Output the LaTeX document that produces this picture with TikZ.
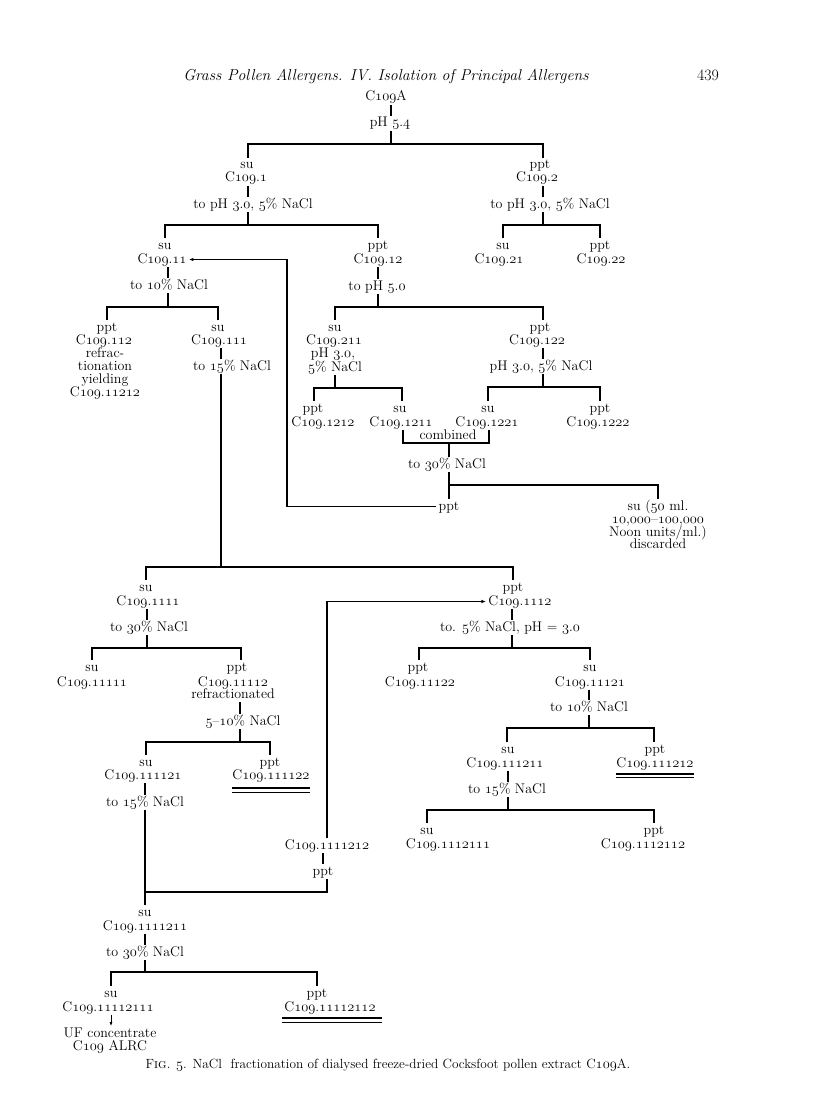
\documentclass[tikz,border=0pt]{standalone}
\usetikzlibrary{arrows.meta}
\newcommand\os[1]{{\usefont{OML}{lmm}{m}{it}#1}}
\newcommand\Cn[1]{C\os{109}.\os{#1}}
\newcommand\mf{\fontsize{14}{14.5}\selectfont}
\begin{document}
\begin{tikzpicture}[x=1pt,y=-1pt,
 lab/.style={inner sep=0pt,outer sep=2.5pt,anchor=base,font=\mf,text height=8.5pt,text depth=1.5pt},
 ln/.style={line width=1.4pt},
 tip/.style={-{Latex[length=4.5pt,width=3.5pt]}},
 ulA/.style={line width=1.3pt},
 ulB/.style={line width=0.7pt}]
\path[use as bounding box,fill=white] (0,0) rectangle (816,1118);
% header
\node[anchor=base,font=\fontsize{15.8}{16}\selectfont\itshape] (title) at (386,81) {Grass Pollen Allergens. IV. Isolation of Principal Allergens};
\node[anchor=base,font=\fontsize{15.8}{16}\selectfont] (page) at (708,81) {439};
% nodes
\node[lab] (A) at (386,101) {C\os{109}A};
\node[lab] (ph54) at (390,127) {pH \os{5}.\os{4}};
\node[lab] (s1) at (247,169) {su};
\node[lab] (c1) at (246,182) {\Cn{1}};
\node[lab] (t1) at (253,208) {to pH \os{3}.\os{0}, \os{5}\% NaCl};
\node[lab] (p2) at (540,169) {ppt};
\node[lab] (c2) at (537,182) {\Cn{2}};
\node[lab] (t2) at (550,208) {to pH \os{3}.\os{0}, \os{5}\% NaCl};
\node[lab] (s21) at (503,249) {su};
\node[lab] (c21) at (499,263) {\Cn{21}};
\node[lab] (p22) at (600,249) {ppt};
\node[lab] (c22) at (601,263) {\Cn{22}};
\node[lab] (s11) at (165,249) {su};
\node[lab] (c11) at (162,263) {\Cn{11}};
\node[lab] (t11) at (169,289) {to \os{10}\% NaCl};
\node[lab] (p112) at (107,331) {ppt};
\node[lab] (c112) at (104,344) {\Cn{112}};
\node[lab] (r1) at (105,357) {refrac-};
\node[lab] (r2) at (105,370) {tionation};
\node[lab] (r3) at (105,383) {yielding};
\node[lab] (r4) at (105,396) {\Cn{11212}};
\node[lab] (s111) at (218,331) {su};
\node[lab] (c111) at (219,344) {\Cn{111}};
\node[lab] (t111) at (232,370) {to \os{15}\% NaCl};
\node[lab] (p12) at (378,249) {ppt};
\node[lab] (c12) at (378,263) {\Cn{12}};
\node[lab] (t12) at (377,290) {to pH \os{5}.\os{0}};
\node[lab] (s121) at (335,331) {su};
\node[lab] (c121) at (334,344) {\Cn{211}};
\node[lab] (ph3a) at (333,357) {pH \os{3}.\os{0},};
\node[lab] (nacl5) at (335,371) {\os{5}\% NaCl};
\node[lab] (p1212) at (313,412) {ppt};
\node[lab] (c1212) at (323,426) {\Cn{1212}};
\node[lab] (s1211) at (400,412) {su};
\node[lab] (c1211) at (401,426) {\Cn{1211}};
\node[lab] (p122) at (540,331) {ppt};
\node[lab] (c122) at (537,344) {\Cn{122}};
\node[lab] (t122) at (541,370) {pH \os{3}.\os{0}, \os{5}\% NaCl};
\node[lab] (s1221) at (488,412) {su};
\node[lab] (c1221) at (487,426) {\Cn{1221}};
\node[lab] (p1222) at (600,412) {ppt};
\node[lab] (c1222) at (598,426) {\Cn{1222}};
\node[lab] (comb) at (448,439) {combined};
\node[lab] (t30a) at (447,468) {to \os{30}\% NaCl};
\node[lab] (pptA) at (449,510) {ppt};
\node[lab] (sd1) at (658,510) {su (\os{50} ml.};
\node[lab] (sd2) at (658,523) {\os{10},\os{000}--\os{100},\os{000}};
\node[lab] (sd3) at (658,536) {Noon units/ml.)};
\node[lab] (sd4) at (658,548) {discarded};
\node[lab] (s1111) at (146,591) {su};
\node[lab] (c1111) at (148,605) {\Cn{1111}};
\node[lab] (t1111) at (149,631) {to \os{30}\% NaCl};
\node[lab] (s11111) at (92,671) {su};
\node[lab] (c11111) at (92,686) {\Cn{11111}};
\node[lab] (p11112) at (237,671) {ppt};
\node[lab] (c11112) at (233,686) {\Cn{11112}};
\node[lab] (refr) at (233,698) {refractionated};
\node[lab] (t11112) at (243,725) {\os{5}--\os{10}\% NaCl};
\node[lab] (s111121) at (146,766) {su};
\node[lab] (c111121) at (143,779) {\Cn{111121}};
\node[lab] (t111121) at (145,806) {to \os{15}\% NaCl};
\node[lab] (p111122) at (270,766) {ppt};
\node[lab] (c111122) at (271,779) {\Cn{111122}};
\node[lab] (p1112) at (513,591) {ppt};
\node[lab] (c1112) at (520,605) {\Cn{1112}};
\node[lab] (t1112) at (510,631) {to. \os{5}\% NaCl, pH = \os{3}.\os{0}};
\node[lab] (p11122) at (418,671) {ppt};
\node[lab] (c11122) at (420,686) {\Cn{11122}};
\node[lab] (s11121) at (590,671) {su};
\node[lab] (c11121) at (590,686) {\Cn{11121}};
\node[lab] (t11121) at (589,711) {to \os{10}\% NaCl};
\node[lab] (s111211) at (508,753) {su};
\node[lab] (c111211) at (505,767) {\Cn{111211}};
\node[lab] (t111211) at (507,793) {to \os{15}\% NaCl};
\node[lab] (p111212) at (655,753) {ppt};
\node[lab] (c111212) at (655,767) {\Cn{111212}};
\node[lab] (s1112111) at (427,834) {su};
\node[lab] (c1112111) at (448,848) {\Cn{1112111}};
\node[lab] (p1112112) at (654,834) {ppt};
\node[lab] (c1112112) at (643,848) {\Cn{1112112}};
\node[lab] (c1111212) at (327,849) {\Cn{1111212}};
\node[lab] (pB) at (323,875) {ppt};
\node[lab] (s1111211) at (145,916) {su};
\node[lab] (c1111211) at (145,930) {\Cn{1111211}};
\node[lab] (t1111211) at (145,956) {to \os{30}\% NaCl};
\node[lab] (s11112111) at (111,997) {su};
\node[lab] (c11112111) at (108,1011) {\Cn{11112111}};
\node[lab] (uf1) at (110,1037) {UF concentrate};
\node[lab] (uf2) at (110,1050) {C\os{109} ALRC};
\node[lab] (p11112112) at (317,997) {ppt};
\node[lab] (c11112112) at (330,1011) {\Cn{11112112}};
\node[anchor=base,font=\fontsize{13.3}{14}\selectfont] (cap) at (388,1068) {F\textsc{ig}. \os{5}. NaCl\ \ fractionation of dialysed freeze-dried Cocksfoot pollen extract C\os{109}A.};
% junction coordinates
\coordinate (j1) at (391,144); \coordinate (L1) at (248,144); \coordinate (R1) at (543,144);
\coordinate (j2) at (248,225); \coordinate (L2) at (165,225); \coordinate (R2) at (378,225);
\coordinate (j3) at (543,225); \coordinate (L3) at (503,225); \coordinate (R3) at (600,225);
\coordinate (j4) at (168,307); \coordinate (L4) at (107,307); \coordinate (R4) at (218,307);
\coordinate (j5) at (221,567); \coordinate (L5) at (146,567); \coordinate (R5) at (513,567);
\coordinate (j6) at (378,307); \coordinate (L6) at (335,307); \coordinate (R6) at (543,307);
\coordinate (j7) at (335,388); \coordinate (L7) at (314,388); \coordinate (R7) at (402,388);
\coordinate (j8) at (543,387); \coordinate (L8) at (488,387); \coordinate (R8) at (600,387);
\coordinate (BL) at (403,443); \coordinate (BR) at (489,443); \coordinate (j9) at (449,443);
\coordinate (j10) at (449,485); \coordinate (R10) at (658,485);
\coordinate (k1) at (287,506);
\coordinate (j11) at (147,648); \coordinate (L11) at (92,648); \coordinate (R11) at (241,648);
\coordinate (j12) at (240,742); \coordinate (L12) at (146,742); \coordinate (R12) at (270,742);
\coordinate (j13) at (512,648); \coordinate (L13) at (419,648); \coordinate (R13) at (590,648);
\coordinate (j14) at (589,728); \coordinate (L14) at (507,728); \coordinate (R14) at (654,728);
\coordinate (j15) at (508,810); \coordinate (L15) at (427,810); \coordinate (R15) at (654,810);
\coordinate (L16) at (145,892); \coordinate (R16) at (327,892);
\coordinate (j17) at (145,972); \coordinate (L17) at (111,972); \coordinate (R17) at (317,972);
% connectors
\draw[ln] (A.south -| j1) -- (ph54.north -| j1);
\draw[ln] (ph54.south -| j1) -- (j1);
\draw[ln] (s1.north -| L1) -- (L1) -- (R1) -- (p2.north -| R1);
\draw[ln] (c1.south -| j2) -- (t1.north -| j2);
\draw[ln] (t1.south -| j2) -- (j2);
\draw[ln] (s11.north -| L2) -- (L2) -- (R2) -- (p12.north -| R2);
\draw[ln] (c2.south -| j3) -- (t2.north -| j3);
\draw[ln] (t2.south -| j3) -- (j3);
\draw[ln] (s21.north -| L3) -- (L3) -- (R3) -- (p22.north -| R3);
\draw[ln] (c11.south -| j4) -- (t11.north -| j4);
\draw[ln] (t11.south -| j4) -- (j4);
\draw[ln] (p112.north -| L4) -- (L4) -- (R4) -- (s111.north -| R4);
\draw[ln] (c111.south -| j5) -- (t111.north -| j5);
\draw[ln] (t111.south -| j5) -- (j5);
\draw[ln] (s1111.north -| L5) -- (L5) -- (R5) -- (p1112.north -| R5);
\draw[ln] (c12.south -| j6) -- (t12.north -| j6);
\draw[ln] (t12.south -| j6) -- (j6);
\draw[ln] (s121.north -| L6) -- (L6) -- (R6) -- (p122.north -| R6);
\draw[ln] (nacl5.south -| j7) -- (j7);
\draw[ln] (p1212.north -| L7) -- (L7) -- (R7) -- (s1211.north -| R7);
\draw[ln] (c122.south -| j8) -- (t122.north -| j8);
\draw[ln] (t122.south -| j8) -- (j8);
\draw[ln] (s1221.north -| L8) -- (L8) -- (R8) -- (p1222.north -| R8);
\draw[ln] (c1211.south -| BL) -- (BL) -- (BR) -- (c1221.south -| BR);
\draw[ln] (j9) -- (t30a.north -| j9);
\draw[ln] (t30a.south -| j9) -- (pptA.north -| j9);
\draw[ln] (j10) -- (R10) -- (sd1.north -| R10);
\draw[ln,tip] (pptA.west) -- (pptA.west -| k1) -- (k1 |- c11.east) -- (c11.east);
\draw[ln] (c1111.south -| j11) -- (t1111.north -| j11);
\draw[ln] (t1111.south -| j11) -- (j11);
\draw[ln] (s11111.north -| L11) -- (L11) -- (R11) -- (p11112.north -| R11);
\draw[ln] (refr.south -| j12) -- (t11112.north -| j12);
\draw[ln] (t11112.south -| j12) -- (j12);
\draw[ln] (s111121.north -| L12) -- (L12) -- (R12) -- (p111122.north -| R12);
\draw[ln] (c111121.south -| L16) -- (t111121.north -| L16);
\draw[ln] (c1112.south -| j13) -- (t1112.north -| j13);
\draw[ln] (t1112.south -| j13) -- (j13);
\draw[ln] (p11122.north -| L13) -- (L13) -- (R13) -- (s11121.north -| R13);
\draw[ln] (c11121.south -| j14) -- (t11121.north -| j14);
\draw[ln] (t11121.south -| j14) -- (j14);
\draw[ln] (s111211.north -| L14) -- (L14) -- (R14) -- (p111212.north -| R14);
\draw[ln] (c111211.south -| j15) -- (t111211.north -| j15);
\draw[ln] (t111211.south -| j15) -- (j15);
\draw[ln] (s1112111.north -| L15) -- (L15) -- (R15) -- (p1112112.north -| R15);
\draw[ln,tip] (c1111212.north -| R16) -- (R16 |- c1112.west) -- (c1112.west);
\draw[ln] (c1111212.south -| pB) -- (pB.north);
\draw[ln] (t111121.south -| L16) -- (L16) -- (R16) -- (pB.south -| R16);
\draw[ln] (L16) -- (s1111211.north -| L16);
\draw[ln] (c1111211.south -| j17) -- (t1111211.north -| j17);
\draw[ln] (t1111211.south -| j17) -- (j17);
\draw[ln] (s11112111.north -| L17) -- (L17) -- (R17) -- (p11112112.north -| R17);
\draw[line width=0.6pt,-{Latex[length=4pt,width=3pt]}] (c11112111.south -| L17) -- (uf1.north -| L17);
% double underlines
\draw[ulA] ([xshift=2pt,yshift=-5pt]c111122.south west) -- ([xshift=-2pt,yshift=-5pt]c111122.south east);
\draw[ulB] ([xshift=2pt,yshift=-9pt]c111122.south west) -- ([xshift=-2pt,yshift=-9pt]c111122.south east);
\draw[ulA] ([xshift=2pt,yshift=-3pt]c111212.south west) -- ([xshift=-2pt,yshift=-3pt]c111212.south east);
\draw[ulB] ([xshift=2pt,yshift=-6pt]c111212.south west) -- ([xshift=-2pt,yshift=-6pt]c111212.south east);
\draw[ulA] ([xshift=0pt,yshift=-3pt]c11112112.south west) -- ([xshift=4pt,yshift=-3pt]c11112112.south east);
\draw[ulB] ([xshift=0pt,yshift=-7pt]c11112112.south west) -- ([xshift=4pt,yshift=-7pt]c11112112.south east);
\end{tikzpicture}
\end{document}
